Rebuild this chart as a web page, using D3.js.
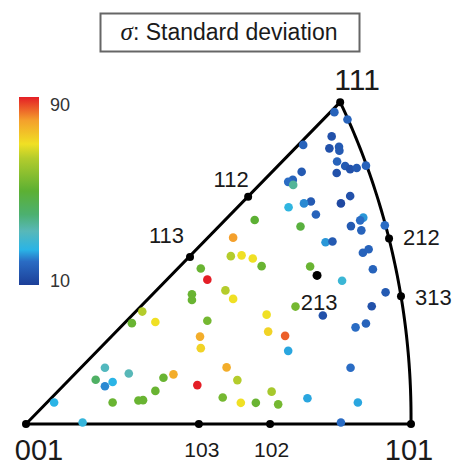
<!DOCTYPE html>
<html>
<head>
<meta charset="utf-8">
<script src="https://cdn.jsdelivr.net/npm/d3@7"></script>
<style>
  body { margin: 0; background: #fff; }
  text { font-family: "Liberation Sans", Arial, sans-serif; fill: #1a1a1a; }
</style>
</head>
<body>
<div id="ipf"></div>
<script>
// pole positions in the projection (001 -> 101 = 1 unit)
const poles = ["001", "103", "102", "101", "113", "112", "111", "212", "313", "213"];
const poleX = [0, 0.449, 0.634, 1, 0.426, 0.577, 0.816, 0.943, 0.974, 0.756];
const poleY = [0, 0, 0, 0, 0.434, 0.590, 0.836, 0.482, 0.332, 0.386];

// grains: position in the projection and standard deviation
const grainX = [0.801, 0.835, 0.720, 0.794, 0.788, 0.813, 0.814, 0.808, 0.829, 0.842,
  0.859, 0.883, 0.807, 0.716, 0.693, 0.681, 0.694, 0.842, 0.740, 0.722,
  0.682, 0.818, 0.753, 0.876, 0.868, 0.844, 0.871, 0.932, 0.713, 0.594,
  0.538, 0.778, 0.796, 0.875, 0.890, 0.901, 0.532, 0.560, 0.589, 0.612,
  0.454, 0.471, 0.738, 0.821, 0.934, 0.898, 0.700, 0.771, 0.883, 0.856,
  0.625, 0.629, 0.673, 0.681, 0.843, 0.431, 0.431, 0.518, 0.538, 0.302,
  0.275, 0.336, 0.471, 0.452, 0.454, 0.521, 0.549, 0.205, 0.267, 0.181,
  0.225, 0.205, 0.357, 0.383, 0.445, 0.336, 0.304, 0.292, 0.225, 0.073,
  0.147, 0.511, 0.558, 0.597, 0.638, 0.655, 0.731, 0.862, 0.818];
const grainY = [0.810, 0.791, 0.725, 0.747, 0.716, 0.720, 0.710, 0.682, 0.670, 0.662,
  0.665, 0.671, 0.652, 0.655, 0.634, 0.629, 0.621, 0.592, 0.578, 0.573,
  0.563, 0.573, 0.544, 0.536, 0.529, 0.514, 0.503, 0.516, 0.513, 0.530,
  0.484, 0.472, 0.474, 0.445, 0.454, 0.402, 0.436, 0.438, 0.430, 0.410,
  0.404, 0.375, 0.409, 0.372, 0.342, 0.306, 0.305, 0.282, 0.261, 0.251,
  0.284, 0.240, 0.229, 0.190, 0.146, 0.337, 0.322, 0.347, 0.325, 0.292,
  0.262, 0.265, 0.268, 0.227, 0.197, 0.147, 0.114, 0.146, 0.131, 0.115,
  0.109, 0.098, 0.120, 0.129, 0.101, 0.086, 0.062, 0.061, 0.056, 0.056,
  0.004, 0.069, 0.055, 0.055, 0.084, 0.051, 0.067, 0.056, 0.004];
const grainSigma = [18, 18, 18, 14, 14, 16, 16, 18, 16, 14,
  16, 18, 14, 16, 18, 20, 36, 14, 16, 22,
  26, 12, 18, 23, 20, 16, 18, 20, 48, 50,
  80, 23, 16, 18, 18, 18, 64, 70, 70, 52,
  52, 90, 52, 28, 16, 14, 54, 14, 18, 20,
  70, 72, 85, 24, 20, 52, 52, 64, 70, 64,
  52, 70, 54, 78, 72, 78, 64, 32, 33, 42,
  25, 22, 52, 78, 90, 52, 52, 52, 52, 25,
  27, 54, 70, 52, 62, 54, 24, 24, 20];

// colour map
const sigmaStops = [10, 20, 25, 33, 40, 50, 64, 70, 80, 90];
const colorStops = ["#1c3f98", "#2a6cc4", "#2ab4e6", "#58b8b8", "#4cb070", "#5cb033", "#b4cc2c", "#f0e024", "#f4a02c", "#e41e26"];
const cbTicks = [10, 90];

const W = 456, H = 467;
const svg = d3.select("#ipf").append("svg")
  .attr("width", W).attr("height", H);

const x = d3.scaleLinear().domain([0, 1]).range([26, 411]);
const y = d3.scaleLinear().domain([0, 1]).range([424, 39]);
const color = d3.scaleLinear().domain(sigmaStops).range(colorStops);

// title box
svg.append("rect")
  .attr("x", 100.5).attr("y", 13.5).attr("width", 259).attr("height", 38)
  .attr("fill", "none").attr("stroke", "#666").attr("stroke-width", 2);
const title = svg.append("text")
  .attr("x", 229).attr("y", 40)
  .attr("text-anchor", "middle")
  .style("font-size", "23px");
title.append("tspan").text("σ")
  .style("font-family", "'Liberation Serif', serif").style("font-style", "italic")
  .style("font-size", "25px");
title.append("tspan").text(": Standard deviation");

// colour bar
const cb = { x: 19, y: 97, w: 20, h: 188 };
const cbScale = d3.scaleLinear().domain([10, 90]).range([cb.y + cb.h, cb.y]);
const grad = svg.append("defs").append("linearGradient")
  .attr("id", "cbgrad").attr("x1", 0).attr("y1", 1).attr("x2", 0).attr("y2", 0);
grad.selectAll("stop").data(sigmaStops).enter().append("stop")
  .attr("offset", d => (d - 10) / 80)
  .attr("stop-color", d => color(d));
svg.append("rect")
  .attr("x", cb.x).attr("y", cb.y).attr("width", cb.w).attr("height", cb.h)
  .attr("fill", "url(#cbgrad)");
svg.selectAll(".cbtick").data(cbTicks).enter().append("text")
  .attr("class", "cbtick")
  .attr("x", 50)
  .attr("y", d => d === 90 ? cbScale(d) + 14 : cbScale(d) + 2)
  .style("font-size", "18px").style("fill", "#333")
  .text(d => d);

// triangle: two straight edges and the 101-111 arc
const P = i => [poleX[i], poleY[i]];
const a = P(6), b = P(8), c = P(3);
// circumcircle through 111, 313, 101
const d = 2 * (a[0] * (b[1] - c[1]) + b[0] * (c[1] - a[1]) + c[0] * (a[1] - b[1]));
const ux = ((a[0] ** 2 + a[1] ** 2) * (b[1] - c[1]) + (b[0] ** 2 + b[1] ** 2) * (c[1] - a[1]) + (c[0] ** 2 + c[1] ** 2) * (a[1] - b[1])) / d;
const uy = ((a[0] ** 2 + a[1] ** 2) * (c[0] - b[0]) + (b[0] ** 2 + b[1] ** 2) * (a[0] - c[0]) + (c[0] ** 2 + c[1] ** 2) * (b[0] - a[0])) / d;
const r = Math.hypot(a[0] - ux, a[1] - uy);
const t0 = Math.atan2(a[1] - uy, a[0] - ux), t1 = Math.atan2(c[1] - uy, c[0] - ux);
const arcPts = d3.range(0, 61).map(k => {
  const t = t0 + (t1 - t0) * k / 60;
  return [ux + r * Math.cos(t), uy + r * Math.sin(t)];
});
const outline = [P(0)].concat(arcPts).concat([P(0)]);
svg.append("path")
  .datum(outline)
  .attr("fill", "none").attr("stroke", "#000").attr("stroke-width", 3)
  .attr("stroke-linejoin", "round")
  .attr("d", d3.line().x(p => x(p[0])).y(p => y(p[1])));

// grains
svg.selectAll(".grain").data(grainX.map((gx, i) => ({ gx, gy: grainY[i], s: grainSigma[i] })))
  .enter().append("circle")
  .attr("class", "grain")
  .attr("cx", g => x(g.gx)).attr("cy", g => y(g.gy))
  .attr("r", 4.3)
  .attr("fill", g => color(g.s));

// pole markers and labels
const labelLayout = {
  "001": { dx: 13, dy: 36, size: 29, anchor: "middle" },
  "103": { dx: 3, dy: 33, size: 21, anchor: "middle" },
  "102": { dx: 1.5, dy: 33, size: 21, anchor: "middle" },
  "101": { dx: -2, dy: 36, size: 29, anchor: "middle" },
  "113": { dx: -23.5, dy: -14, size: 22, anchor: "middle" },
  "112": { dx: -17, dy: -10, size: 22, anchor: "middle" },
  "111": { dx: 17, dy: -12, size: 30, anchor: "middle" },
  "212": { dx: 14, dy: 6.5, size: 22, anchor: "start" },
  "313": { dx: 14, dy: 9, size: 22, anchor: "start" },
  "213": { dx: 2, dy: 34.5, size: 22, anchor: "middle" }
};
svg.selectAll(".pole").data(poles).enter().append("circle")
  .attr("class", "pole")
  .attr("cx", (p, i) => x(poleX[i])).attr("cy", (p, i) => y(poleY[i]))
  .attr("r", (p, i) => i === 9 ? 4.5 : 4)
  .attr("fill", "#000");
svg.selectAll(".plabel").data(poles).enter().append("text")
  .attr("class", "plabel")
  .attr("x", (p, i) => x(poleX[i]) + labelLayout[p].dx)
  .attr("y", (p, i) => y(poleY[i]) + labelLayout[p].dy)
  .attr("text-anchor", p => labelLayout[p].anchor)
  .style("font-size", p => labelLayout[p].size + "px")
  .text(p => p);
</script>
</body>
</html>
